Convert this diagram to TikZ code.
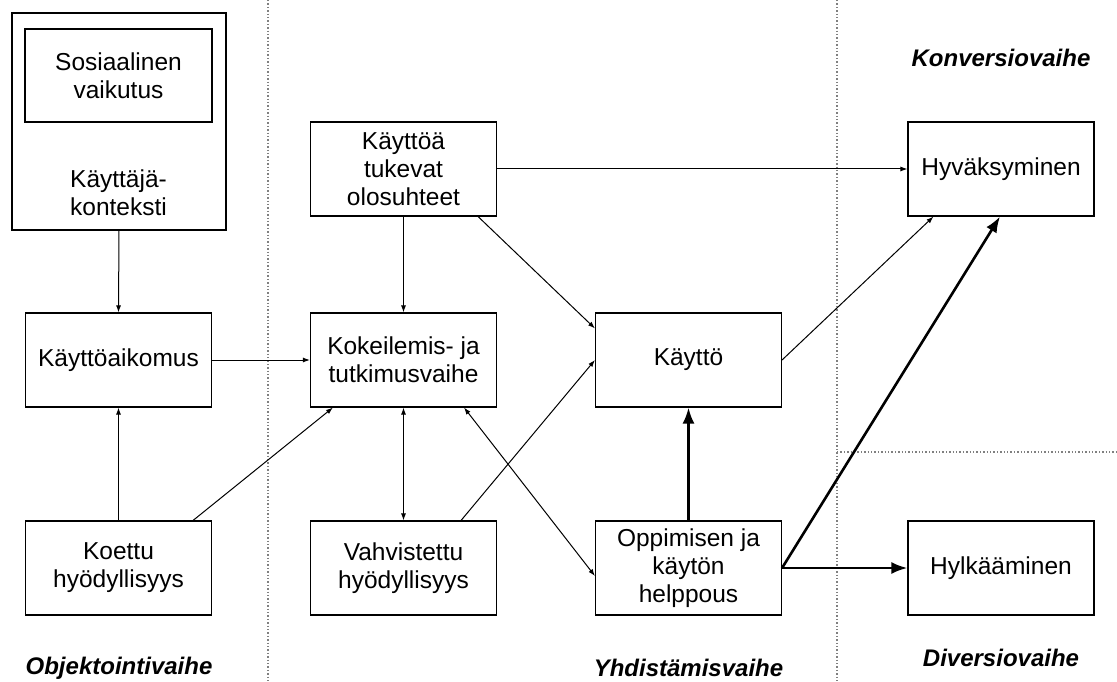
\documentclass[tikz,border=0pt]{standalone}
\usepackage{fontspec}
\setmainfont{Liberation Sans}
\usetikzlibrary{arrows.meta}
\begin{document}
\begin{tikzpicture}[x=1pt,y=-1pt,
    box/.style={draw,line width=1.1pt,minimum width=186pt,minimum height=94pt,
      align=center,font=\fontsize{24.5}{28}\selectfont},
    ohut/.style={line width=1pt,-{Latex[length=7pt,width=5pt]}},
    kaksi/.style={line width=1pt,{Latex[length=7pt,width=5pt]}-{Latex[length=7pt,width=5pt]}},
    paksu/.style={line width=2.6pt,-{Latex[length=16pt,width=12pt]}},
    vaihe/.style={font=\fontsize{24}{28}\selectfont\bfseries\itshape},
    raja/.style={gray,dotted,line width=1.4pt}]
    \useasboundingbox (0,0) rectangle (1117,682);
	\draw[raja] (268,0)--(268,682) (837,0)--(837,682) (837,452)--(1117,452);
	\node[box,minimum width=214pt,minimum height=217pt] (konteksti) at (119,121.5) {};
	\node[box,minimum width=187pt,minimum height=93pt] (sosiaalinen) at (118.5,75.5) {Sosiaalinen\\vaikutus};
	\node[align=center,font=\fontsize{24.5}{28}\selectfont] (kayttaja) at (118.5,193) {Käyttäjä-\\konteksti};
	\node[box] (aikomus) at (118.5,360) {Käyttöaikomus};
	\node[box] (koettu) at (118.5,568) {Koettu\\hyödyllisyys};
	\node[box] (tukevat) at (403.5,169) {Käyttöä\\tukevat\\olosuhteet};
	\node[box] (kokeilu) at (403.5,360) {Kokeilemis- ja\\tutkimusvaihe};
	\node[box] (vahvistettu) at (403.5,568) {Vahvistettu\\hyödyllisyys};
	\node[box] (kaytto) at (688.5,360) {Käyttö};
	\node[box] (helppous) at (688.5,568) {Oppimisen ja\\käytön\\helppous};
	\node[box] (hyvaksyminen) at (1001,169) {Hyväksyminen};
	\node[box] (hylkaaminen) at (1001,568) {Hylkääminen};
	\node[vaihe] (konversio) at (1001,58) {Konversiovaihe};
	\node[vaihe] (objektointi) at (119,668) {Objektointivaihe};
	\node[vaihe] (yhdistamis) at (688.5,668) {Yhdistämisvaihe};
	\node[vaihe] (diversio) at (1001,658) {Diversiovaihe};
	\draw[ohut] (konteksti.south)--(aikomus.north);
	\draw[ohut] (koettu.north)--(aikomus.south);
	\draw[ohut] ([xshift=-19pt]koettu.north east)--([xshift=23pt]kokeilu.south west);
	\draw[ohut] (aikomus.east)--(kokeilu.west);
	\draw[ohut] (tukevat.south)--(kokeilu.north);
	\draw[ohut] (tukevat.east)--(hyvaksyminen.west);
	\draw[ohut] ([xshift=-19pt]tukevat.south east)--([yshift=-16pt]kaytto.north west);
	\draw[kaksi] (kokeilu.south)--(vahvistettu.north);
	\draw[kaksi] ([xshift=-33pt]kokeilu.south east)--([yshift=-8pt]helppous.west);
	\draw[ohut] ([xshift=-36pt]vahvistettu.north east)--(kaytto.west);
	\draw[ohut] (kaytto.east)--([xshift=26pt]hyvaksyminen.south west);
	\draw[paksu] (helppous.north)--(kaytto.south);
	\draw[paksu] (helppous.east)--([xshift=-1pt]hyvaksyminen.south);
	\draw[paksu] (helppous.east)--(hylkaaminen.west);
\end{tikzpicture}
\end{document}
